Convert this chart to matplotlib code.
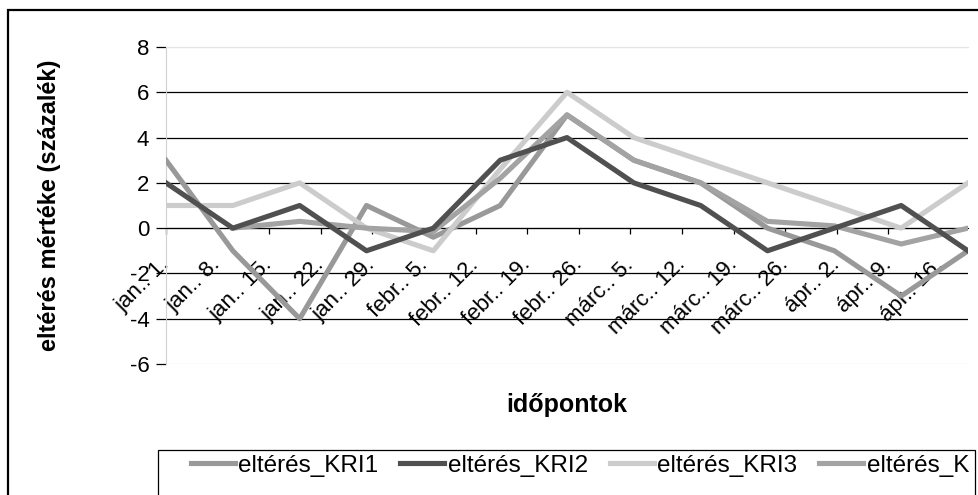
import numpy as np
import matplotlib
matplotlib.use('Agg')
import matplotlib.pyplot as plt
from matplotlib.patches import Rectangle

plt.rcParams['font.family'] = ['Liberation Sans', 'DejaVu Sans']

# Adatok (leolvasva az eredeti ábráról)
tick_labels = ['jan.. 1.', 'jan.. 8.', 'jan.. 15.', 'jan.. 22.', 'jan.. 29.',
               'febr.. 5.', 'febr.. 12.', 'febr.. 19.', 'febr.. 26.',
               'márc.. 5.', 'márc.. 12.', 'márc.. 19.', 'márc.. 26.',
               'ápr.. 2.', 'ápr.. 9.', 'ápr.. 16.']
kri1 = [3, -1, -4, 1, -0.4, 1, 5, 3, 2, 0, -1, -3, -1]
kri2 = [2, 0, 1, -1, 0, 3, 4, 2, 1, -1, 0, 1, -1]
kri3 = [1, 1, 2, 0, -1, 2.6, 6, 4, 3, 2, 1, 0, 2]
k_series = [np.nan, 0, 0.3, 0, -0.15, 2.2, 5, 3, 2, 0.3, 0.1, -0.7, 0]

x = np.arange(len(kri1))
label_step = 0.772  # a feliratok sűrűbbek, mint az adatpontok

fig = plt.figure(figsize=(9.79, 4.95), dpi=100)
ax = fig.add_axes([166 / 979, 1 - 364 / 495, 802 / 979, 317 / 495])

lw = 3.7
ax.plot(x, kri1, color='#999999', lw=lw, label='eltérés_KRI1', zorder=3)
ax.plot(x, kri2, color='#505050', lw=lw, label='eltérés_KRI2', zorder=6)
ax.plot(x, kri3, color='#cccccc', lw=lw, label='eltérés_KRI3', zorder=4)
ax.plot(x, k_series, color='#a3a3a3', lw=lw, label='eltérés_K', zorder=5)

# a tengelyvonal a 0-nál (előbb, mert újraépíti a tickeket)
ax.spines['bottom'].set_position(('data', 0))
ax.spines['bottom'].set_color('black')
ax.spines['right'].set_visible(False)
ax.spines['top'].set_color('#e4e4e4')
ax.spines['left'].set_color('#d0d0d0')

ax.set_xlim(0, len(kri1) - 1)
ax.set_ylim(-6, 8)
ax.set_yticks(np.arange(-6, 9, 2))
ax.set_yticklabels([str(v) for v in range(-6, 9, 2)], fontsize=16)

ax.set_xticks(np.arange(len(tick_labels)) * label_step)
ax.set_xticklabels(tick_labels, rotation=45, ha='right', va='center',
                   rotation_mode='anchor', fontsize=16)

ax.grid(axis='y', color='black', lw=0.9)
grid = ax.get_ygridlines()
grid[0].set_color('#e4e4e4')
grid[-1].set_color('#e4e4e4')

ax.tick_params(axis='y', length=7, width=0.9, pad=5, color='black')
ax.tick_params(axis='x', length=4, width=0.9, pad=20, color='black')

ax.set_ylabel('eltérés mértéke (százalék)', fontsize=17, fontweight='bold')
ax.yaxis.set_label_coords(-0.131, 0.5)
ax.set_xlabel('időpontok', fontsize=18, fontweight='bold')
ax.xaxis.set_label_coords(0.5, -0.09)

# Jelmagyarázat
handles, labels = ax.get_legend_handles_labels()
fig.legend(handles, labels, loc='center left', ncol=4, frameon=False,
           bbox_to_anchor=(191 / 979, 1 - 466 / 495), fontsize=17.5,
           handlelength=1.8, handletextpad=0.15, columnspacing=0.9,
           borderpad=0, borderaxespad=0)
fig.patches.append(Rectangle((158 / 979, -0.1), (975 - 158) / 979, 0.1 + 1 - 450 / 495,
                             transform=fig.transFigure, fill=False,
                             edgecolor='black', lw=0.9))

# Külső keret
fig.patches.append(Rectangle((8 / 979, -0.1), 1.1, 0.1 + 1 - 10 / 495,
                             transform=fig.transFigure, fill=False,
                             edgecolor='black', lw=1.6))

plt.savefig('out.png', dpi=100)
plt.close(fig)
